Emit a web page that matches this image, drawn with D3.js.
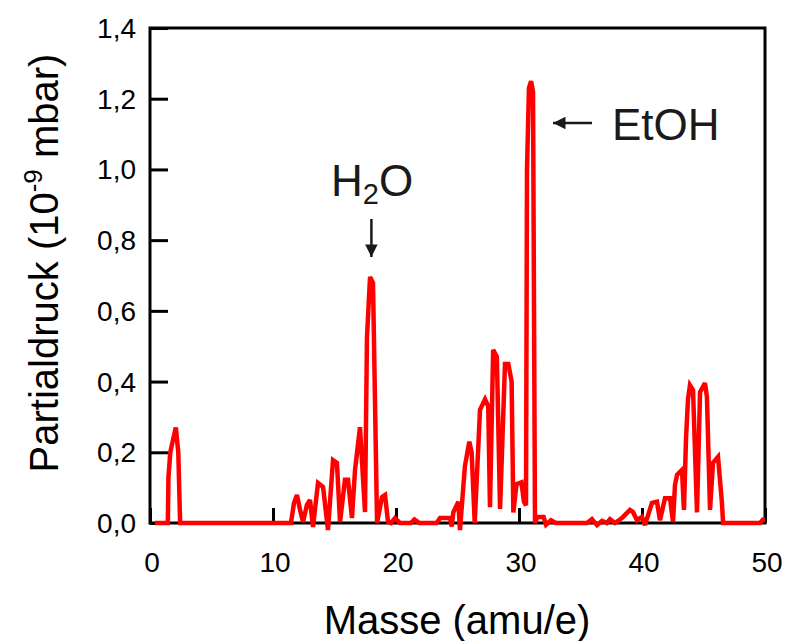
<!DOCTYPE html>
<html>
<head>
<meta charset="utf-8">
<script src="https://cdn.jsdelivr.net/npm/d3@7"></script>
<style>
  html, body { margin: 0; padding: 0; background: #fff; }
  svg { display: block; font-family: "Liberation Sans", Arial, sans-serif; }
</style>
</head>
<body>
<svg id="chart" width="785" height="641"></svg>
<script>
// Mass spectrum: mass-to-charge (amu/e) and partial pressure (10^-9 mbar)
const mass = [
  0.4, 1.45, 1.5, 1.65, 1.9, 2.1, 2.3, 2.45,
  11.46, 11.71, 11.95, 12.2, 12.44, 12.76, 13.01, 13.25, 13.66, 14.07, 14.47,
  14.88, 15.2, 15.45, 15.85, 16.1, 16.42, 16.67, 17.07, 17.48, 17.64, 17.89,
  18.13, 18.46, 18.86, 19.11, 19.35, 19.6, 19.92, 20.33,
  21.2, 21.5, 21.9, 23.3, 23.58, 24.39, 24.53, 24.66, 25.07, 25.2, 25.6, 25.96,
  26.15, 26.4, 26.83, 27.24, 27.5, 27.64, 27.9, 28.2, 28.46, 28.86, 29.13, 29.4,
  29.54, 29.8, 30.2, 30.4, 30.57, 30.65, 30.81, 30.98, 31.14, 31.3,
  31.5, 32.0, 32.2, 32.6, 33.0,
  35.53, 35.93, 36.34, 36.75, 37.15, 37.4, 37.8, 38.37, 38.62, 39.02, 39.27,
  39.59, 40.0, 40.24, 40.81, 41.22, 41.46, 41.87, 42.28, 42.52, 42.68, 42.85,
  43.25, 43.41, 43.58, 43.74, 43.9, 44.15, 44.47, 44.72, 45.12, 45.28, 45.53,
  45.77, 46.18, 46.5, 46.59, 49.6, 49.84, 50.0
];
const pressure = [
  0, 0, 0.13, 0.2, 0.24, 0.27, 0.2, 0,
  0, 0.057, 0.079, 0.037, 0.003, 0.051, 0.065, -0.011, 0.113, 0.102, -0.02,
  0.178, 0.17, 0.003, 0.122, 0.122, 0.014, 0.15, 0.271, 0.031, 0.525, 0.696,
  0.679, 0.0, 0.073, 0.079, 0.003, 0.0, 0.014, 0.0,
  0.0, 0.01, 0.0, 0.0, 0.014, 0.014, -0.01, 0.03, 0.06, -0.02, 0.16, 0.23,
  0.2, 0.0, 0.32, 0.35, 0.33, 0.045, 0.49, 0.47, 0.04, 0.45, 0.45, 0.40,
  0.03, 0.11, 0.115, 0.06, 0.05, 1.0, 1.23, 1.25, 1.22, 0.0,
  0.017, 0.017, -0.005, 0.008, 0.0,
  0, 0.011, -0.006, 0.006, 0, 0.011, 0, 0.014, 0.023, 0.037, 0.031,
  0.008, 0.017, -0.006, 0.057, 0.06, 0.008, 0.07, 0.07, 0.003, 0.107, 0.136,
  0.15, 0.037, 0.24, 0.35, 0.39, 0.376, 0.03, 0.37, 0.396, 0.356, 0.037,
  0.17, 0.187, 0.057, 0, 0, 0.01, 0.01
];
const xTicks = [0, 10, 20, 30, 40, 50];
const yTicks = [0, 0.2, 0.4, 0.6, 0.8, 1.0, 1.2, 1.4];

const svg = d3.select("#chart");
const plot = { left: 150, right: 765, top: 28, bottom: 523 };

const x = d3.scaleLinear().domain([0, 50]).range([plot.left, plot.right]);
const y = d3.scaleLinear().domain([0, 1.4]).range([plot.bottom, plot.top]);
const fmt = d => d3.format(".1f")(d).replace(".", ",");

// Frame
svg.append("rect")
  .attr("x", plot.left).attr("y", plot.top)
  .attr("width", plot.right - plot.left).attr("height", plot.bottom - plot.top)
  .attr("fill", "none").attr("stroke", "#000").attr("stroke-width", 3);

// Y axis: inward ticks
const yAxis = svg.append("g")
  .attr("transform", `translate(${plot.left},0)`)
  .call(d3.axisRight(y).tickValues(yTicks).tickSize(18).tickFormat(""));
yAxis.select(".domain").remove();
yAxis.selectAll(".tick line").attr("stroke", "#000").attr("stroke-width", 3);

svg.append("g").selectAll("text").data(yTicks).join("text")
  .attr("x", 136).attr("y", d => y(d) + 10)
  .attr("text-anchor", "end")
  .attr("font-size", 28).attr("fill", "#000")
  .text(fmt);

// X axis: inward ticks
const xAxis = svg.append("g")
  .attr("transform", `translate(0,${plot.bottom})`)
  .call(d3.axisTop(x).tickValues(xTicks).tickSize(15).tickFormat(""));
xAxis.select(".domain").remove();
xAxis.selectAll(".tick line").attr("stroke", "#000").attr("stroke-width", 3);

svg.append("g").selectAll("text").data(xTicks).join("text")
  .attr("x", d => x(d) + 2).attr("y", 572)
  .attr("text-anchor", "middle")
  .attr("font-size", 28).attr("fill", "#000")
  .text(d => d);

// Axis titles
svg.append("text")
  .attr("x", 457).attr("y", 634)
  .attr("text-anchor", "middle")
  .attr("font-size", 40).attr("fill", "#000")
  .text("Masse (amu/e)");

const yt = svg.append("text")
  .attr("transform", "translate(58,263) rotate(-90)")
  .attr("text-anchor", "middle")
  .attr("font-size", 40).attr("fill", "#000");
yt.append("tspan").text("Partialdruck (10");
yt.append("tspan").attr("font-size", 26).attr("dy", -16).text("-9");
yt.append("tspan").attr("dy", 16).text(" mbar)");

// Spectrum trace
const pts = mass.map((m, i) => [m, pressure[i]]);
svg.append("path")
  .datum(pts)
  .attr("fill", "none")
  .attr("stroke", "#ff0000")
  .attr("stroke-width", 4.5)
  .attr("stroke-linejoin", "miter")
  .attr("stroke-miterlimit", 3)
  .attr("d", d3.line().x(d => x(d[0])).y(d => y(d[1])));

// Annotations
const defs = svg.append("defs");
defs.append("marker")
  .attr("id", "head").attr("viewBox", "0 0 10 10")
  .attr("refX", 10).attr("refY", 5)
  .attr("markerWidth", 5.5).attr("markerHeight", 5)
  .attr("markerUnits", "strokeWidth")
  .attr("orient", "auto")
  .append("path").attr("d", "M0,0 L10,5 L0,10 Z").attr("fill", "#1a1a1a");

const h2o = svg.append("text")
  .attr("x", 331).attr("y", 196)
  .attr("font-size", 44).attr("fill", "#1a1a1a");
h2o.append("tspan").text("H");
h2o.append("tspan").attr("font-size", 29).attr("dy", 8).text("2");
h2o.append("tspan").attr("dy", -8).text("O");

svg.append("line")
  .attr("x1", x(18.0)).attr("x2", x(18.0))
  .attr("y1", 219).attr("y2", 257)
  .attr("stroke", "#1a1a1a").attr("stroke-width", 2.5)
  .attr("marker-end", "url(#head)");

svg.append("text")
  .attr("x", 612).attr("y", 140)
  .attr("font-size", 44).attr("fill", "#1a1a1a")
  .text("EtOH");

svg.append("line")
  .attr("x1", 592).attr("x2", 553)
  .attr("y1", 123).attr("y2", 123)
  .attr("stroke", "#1a1a1a").attr("stroke-width", 2.5)
  .attr("marker-end", "url(#head)");
</script>
</body>
</html>
